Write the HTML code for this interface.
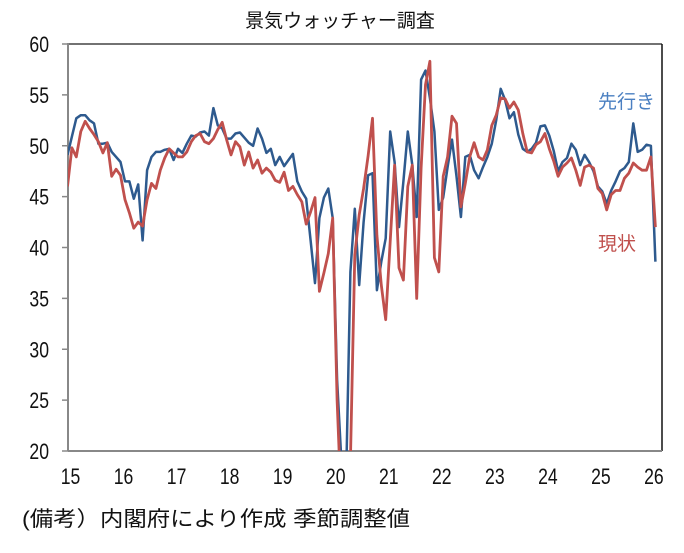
<!DOCTYPE html>
<html><head><meta charset="utf-8"><style>
body{margin:0;background:#fff;width:684px;height:548px;overflow:hidden;font-family:"Liberation Sans","Noto Sans CJK JP",sans-serif}
</style></head><body>
<svg width="684" height="548" viewBox="0 0 684 548" xmlns="http://www.w3.org/2000/svg">
<defs><clipPath id="pc"><rect x="68" y="44" width="594" height="407"/></clipPath></defs>
<text x="340" y="27" text-anchor="middle" font-size="19" fill="#111" font-family="Liberation Sans, Noto Sans CJK JP, sans-serif">景気ウォッチャー調査</text>
<g id="axes"></g>
<g id="series" clip-path="url(#pc)"></g>
<text x="598" y="108" font-size="19" fill="#4a7fc1" font-family="Liberation Sans, Noto Sans CJK JP, sans-serif">先行き</text>
<text x="598" y="250" font-size="19" fill="#c0504d" font-family="Liberation Sans, Noto Sans CJK JP, sans-serif">現状</text>
<text x="22" y="526" font-size="21" fill="#111" textLength="388" lengthAdjust="spacingAndGlyphs" font-family="Liberation Sans, Noto Sans CJK JP, sans-serif">(備考）内閣府により作成 季節調整値</text>
</svg>
<script>
const yTicks=[20,25,30,35,40,45,50,55,60];
const xLabels=["15","16","17","18","19","20","21","22","23","24","25","26"];
const future=[49.1,50.9,52.7,53.0,53.0,52.5,52.2,50.2,50.2,50.3,49.4,48.9,
48.4,46.5,46.5,44.8,46.2,40.7,47.6,48.9,49.4,49.4,49.6,49.7,
48.6,49.7,49.3,50.2,51.0,50.9,51.3,51.4,51.0,53.7,52.0,51.7,
50.7,50.7,51.2,51.3,50.8,50.3,50.0,51.7,50.7,49.3,49.7,48.1,
48.9,48.0,48.6,49.2,46.5,45.5,44.8,40.7,36.5,42.9,44.9,45.8,
42.9,27.0,18.8,16.6,37.6,43.8,36.3,42.5,47.1,47.3,35.8,38.6,
40.9,51.4,48.4,42.0,46.5,51.4,48.1,43.0,56.5,57.4,54.7,51.4,
43.7,44.9,47.9,50.6,47.0,43.0,48.9,49.1,47.6,46.8,47.9,48.9,
50.2,52.5,55.6,54.5,52.7,53.3,51.1,49.7,49.4,49.7,50.3,51.9,
52.0,51.0,49.5,47.5,48.4,48.8,50.2,49.6,48.1,49.1,48.4,47.5,
46.0,45.5,44.3,45.6,46.5,47.5,47.8,48.4,52.2,49.4,49.6,50.1,
50.0,38.6];
const current=[46.0,49.8,48.9,51.4,52.4,51.7,51.1,50.4,49.3,50.3,47.0,47.7,
47.1,44.7,43.4,41.9,42.5,42.1,44.7,46.3,45.8,47.6,48.8,49.7,
49.3,48.9,48.9,49.4,50.4,51.0,51.2,50.4,50.2,50.7,51.6,52.3,
50.6,49.1,50.4,49.9,48.1,49.4,47.8,48.6,47.3,47.8,47.4,46.6,
46.4,47.4,45.6,46.0,45.2,44.5,42.3,43.5,44.9,35.7,37.5,39.4,
42.9,25.0,14.0,8.0,19.0,39.3,43.2,45.8,49.0,52.7,41.2,36.3,
32.9,40.6,48.1,38.0,36.8,46.0,48.1,35.0,47.8,56.0,58.3,39.0,
37.6,47.0,48.9,52.9,52.2,44.0,46.3,48.9,50.3,48.9,48.6,49.6,
52.0,53.0,54.7,54.6,53.7,54.3,53.5,51.2,49.4,49.3,50.1,50.4,
51.2,49.7,48.5,47.0,47.9,48.3,48.8,47.6,46.1,47.9,48.1,47.8,
45.8,45.3,43.7,45.2,45.6,45.6,46.8,47.3,48.3,47.9,47.6,47.6,
48.9,42.0];
const X0=68,X1=662,Y0=44,Y1=451;
function yS(v){return Y1-(v-20)/40*(Y1-Y0);}
function xS(i){return 67.5+i*4.42;}
const NS="http://www.w3.org/2000/svg";
const axes=document.getElementById('axes');
function mk(tag,attrs,parent){const e=document.createElementNS(NS,tag);for(const k in attrs)e.setAttribute(k,attrs[k]);parent.appendChild(e);return e;}
let l;
l=mk('line',{x1:X0,y1:Y0,x2:X1,y2:Y0,stroke:'#444','stroke-width':1.5},axes);


l=mk('line',{x1:X1,y1:Y0,x2:X1,y2:Y1,stroke:'#111','stroke-width':1.5},axes);


l=mk('line',{x1:X0,y1:Y0-1,x2:X0,y2:Y1,stroke:'#888','stroke-width':2},axes);


l=mk('line',{x1:X0,y1:Y1,x2:X1,y2:Y1,stroke:'#888','stroke-width':2},axes);


yTicks.forEach(v=>{
  const y=yS(v);
  const t=mk('line',{x1:62,y1:y,x2:X0,y2:y,stroke:'#888','stroke-width':1.5},axes);
  
  
  const tx=mk('text',{x:0,y:0,'text-anchor':'end','font-size':22,fill:'#111',transform:'translate(49,'+(y+8)+') scale(0.8,1)'},axes);
  tx.textContent=v;
  
  
});
xLabels.forEach((s,k)=>{
  const tx=mk('text',{x:0,y:0,'text-anchor':'middle','font-size':22,fill:'#111',transform:'translate('+(xS(k*12)+3)+',484) scale(0.8,1)'},axes);
  tx.textContent=s;
  
  
});
const sg=document.getElementById('series');
function line(data,color,name,w){
  const d=data.map((v,i)=>(i?'L':'M')+xS(i).toFixed(1)+','+yS(v).toFixed(1)).join('');
  const p=mk('path',{d:d,fill:'none',stroke:color,'stroke-width':w,'stroke-linejoin':'round'},sg);
  
  
}
line(future,'#2e5a8e','future-di-line',2.5);
line(current,'#c0504d','current-di-line',2.8);
</script>
</body></html>
